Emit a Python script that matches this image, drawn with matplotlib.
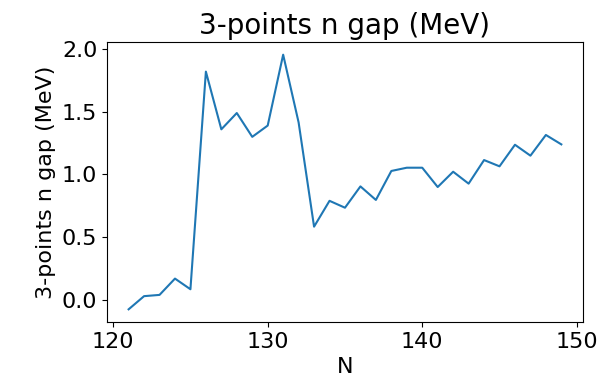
import matplotlib
matplotlib.use('Agg')
import matplotlib.pyplot as plt

N = list(range(121, 150))
gap = [-0.075, 0.03, 0.04, 0.17, 0.085, 1.82, 1.36, 1.49, 1.30, 1.39,
       1.955, 1.415, 0.584, 0.79, 0.735, 0.905, 0.797, 1.028, 1.054, 1.054,
       0.90, 1.022, 0.927, 1.115, 1.065, 1.237, 1.15, 1.315, 1.24]

plt.rcParams['font.size'] = 16
fig = plt.figure(figsize=(6.01, 3.78), dpi=100)
ax = fig.add_axes([0.178, 0.148, 0.792, 0.741])
ax.plot(N, gap, color='#1f77b4')
ax.set_title('3-points n gap (MeV)', fontsize=20)
ax.set_xlabel('N')
ax.set_ylabel('3-points n gap (MeV)')
ax.set_xticks([120, 130, 140, 150])
ax.set_yticks([0.0, 0.5, 1.0, 1.5, 2.0])
fig.savefig('out.png')
